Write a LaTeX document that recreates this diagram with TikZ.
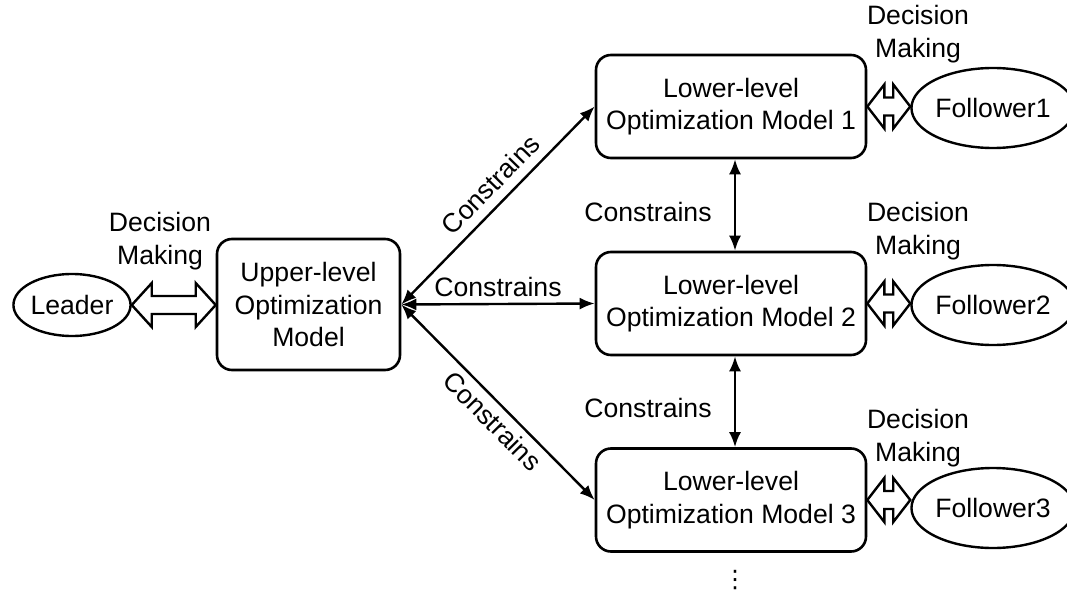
\documentclass[tikz,border=0pt]{standalone}
\usepackage{fontspec}
\setmainfont{Liberation Sans}
\newfontfamily\dotsfont{DejaVu Sans}
\usetikzlibrary{arrows.meta,calc,shapes.geometric}

\tikzset{
  box/.style={draw, line width=2.6pt, rounded corners=15pt, align=center,
    inner sep=0pt, font=\fontsize{26.6}{32.5}\selectfont},
  actor/.style={draw, ellipse, line width=2.4pt, inner sep=0pt,
    font=\fontsize{26.6}{32.5}\selectfont},
  lbl/.style={align=center, inner sep=0pt, font=\fontsize{26.6}{32.5}\selectfont},
  link/.style={line width=2.4pt, {Latex[length=15pt,width=12pt]}-{Latex[length=15pt,width=12pt]}},
  hollow/.style={draw, line width=2.4pt, fill=white, line join=miter}
}

% hollow two-way arrow between two anchors: head length, head half-height, shaft half-height
\newcommand\twoway[5]{%
  \path[hollow] let \p1=(#1), \p2=(#2) in
    (\x1,\y1) -- (\x1+#3,\y1+#4) -- (\x1+#3,\y1+#5) -- (\x2-#3,\y1+#5)
    -- (\x2-#3,\y1+#4) -- (\x2,\y1) -- (\x2-#3,\y1-#4) -- (\x2-#3,\y1-#5)
    -- (\x1+#3,\y1-#5) -- (\x1+#3,\y1-#4) -- cycle;}

\begin{document}
\begin{tikzpicture}[x=1pt,y=-1pt]
\useasboundingbox (0,0) rectangle (1067,596);

% actors and optimisation models
\node[actor, minimum width=116pt, minimum height=62pt] (leader) at (72,305) {Leader};
\node[box, minimum width=183pt, minimum height=131pt] (upper) at (308.5,304.5)
  {Upper-level\\Optimization\\Model};

\node[box, minimum width=270pt, minimum height=103pt] (low1) at (731,106.5)
  {Lower-level\\Optimization Model 1};
\node[box, minimum width=270pt, minimum height=103pt] (low2) at (731,303.5)
  {Lower-level\\Optimization Model 2};
\node[box, minimum width=270pt, minimum height=103pt] (low3) at (731,500)
  {Lower-level\\Optimization Model 3};

\node[actor, minimum width=140pt, minimum height=80pt] (f1) at (993,108) {Follower1};
\node[actor, minimum width=140pt, minimum height=80pt] (f2) at (993,305) {Follower2};
\node[actor, minimum width=140pt, minimum height=80pt] (f3) at (993,508) {Follower3};

% decision-making exchanges
\twoway{leader.east}{upper.west}{20}{22}{9}
\twoway{low1.east}{f1.west}{17}{22}{9}
\twoway{low2.east}{f2.west}{17}{22}{9}
\twoway{low3.east}{f3.west}{17}{22}{9}

\node[lbl] (dm0) at (160,241) {Decision\\Making};
\node[lbl] (dm1) at (918,34) {Decision\\Making};
\node[lbl] (dm2) at (918,231) {Decision\\Making};
\node[lbl] (dm3) at (918,438) {Decision\\Making};

% constraint links
\draw[link] (upper.east) -- node[lbl, sloped, above=9pt, pos=0.535] {Constrains} (low1.west);
\draw[link] (upper.east) -- node[lbl, above=6pt] {Constrains} (low2.west);
\draw[link] (upper.east) -- node[lbl, sloped, below=6pt, pos=0.535] {Constrains} (low3.west);

\coordinate (v1a) at (low1.south -| 735,0);
\coordinate (v1b) at (low2.north -| 735,0);
\coordinate (v2a) at (low2.south -| 735,0);
\coordinate (v2b) at (low3.north -| 735,0);
\draw[link] (v1a) -- (v1b);
\draw[link] (v2a) -- (v2b);
\node[lbl] (c1) at (648,212) {Constrains};
\node[lbl] (c2) at (648,408) {Constrains};

\node[inner sep=0pt, font=\dotsfont\fontsize{24}{24}\selectfont] (more) at (735,580) {⋮};
\end{tikzpicture}
\end{document}
